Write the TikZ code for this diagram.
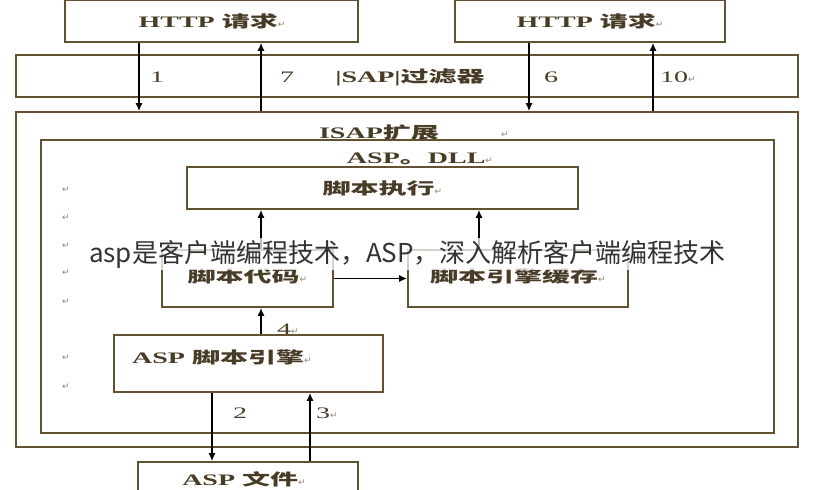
\documentclass[tikz,border=0pt]{standalone}
\usepackage{fontspec}
\usetikzlibrary{arrows.meta}
\setmainfont{Liberation Serif}
\newfontfamily\cjk{Noto Sans CJK SC}
\newfontfamily\symb{DejaVu Sans}
\definecolor{scanline}{RGB}{98,82,50}
\definecolor{scantext}{RGB}{72,60,38}
\newcommand{\ret}{{\mdseries\symb\fontsize{9}{9}\selectfont\color{scanline!70}↵}}
\newcommand{\stretchtxt}[1]{\scalebox{1.75}[1]{#1}}
\begin{document}
\begin{tikzpicture}[x=1pt,y=-1pt,
	box/.style={draw=scanline,line width=1.6pt,fill=white,inner sep=0pt},
	flow/.style={draw=black,line width=1.5pt,-{Latex[length=8pt,width=7pt]}},
	lbl/.style={text=scantext,font=\fontsize{16}{16}\selectfont\bfseries,inner sep=1pt},
	num/.style={lbl,font=\fontsize{16}{16}\selectfont},
	retmark/.style={inner sep=0pt}]
	\useasboundingbox (0,0) rectangle (814,490);
	\clip (0,0) rectangle (814,490);
	\fill[white] (0,0) rectangle (814,490);
	\node[box,minimum width=293pt,minimum height=42pt] (httpL) at (211.5,21) {};
	\node[lbl] (httpLT) at (212,21) {\stretchtxt{HTTP {\cjk 请求}}\ret};
	\node[box,minimum width=270pt,minimum height=42pt] (httpR) at (590,21) {};
	\node[lbl] (httpRT) at (590,21) {\stretchtxt{HTTP {\cjk 请求}}\ret};
	\node[box,minimum width=782pt,minimum height=42pt] (filter) at (407,76) {};
	\node[box,minimum width=782pt,minimum height=335pt] (isap) at (407,279.5) {};
	\node[box,minimum width=733pt,minimum height=293pt] (dll) at (407.5,286.5) {};
	\node[lbl] (filterT) at (410,77) {\stretchtxt{|SAP|{\cjk 过滤器}}};
	\node[lbl] (isapT) at (379,132) {\stretchtxt{ISAP{\cjk 扩展}}};
	\node[retmark] (isapR) at (505,135) {\ret};
	\node[lbl] (dllT) at (420,159) {\stretchtxt{ASP{\cjk 。}DLL}\ret};
	\node[box,minimum width=391pt,minimum height=42pt] (exec) at (382.5,188) {};
	\node[lbl] (execT) at (382.5,188) {\stretchtxt{\cjk 脚本执行}\ret};
	\node[box,minimum width=171pt,minimum height=57pt] (code) at (247.5,278.5) {};
	\node[lbl] (codeT) at (247.5,276) {\stretchtxt{\cjk 脚本代码}\ret};
	\node[box,minimum width=220pt,minimum height=57pt] (cache) at (518,278.5) {};
	\node[lbl] (cacheT) at (518,276) {\stretchtxt{\cjk 脚本引擎缓存}\ret};
	\node[box,minimum width=269pt,minimum height=57pt] (engine) at (248.5,363.5) {};
	\node[lbl,anchor=west] (engineT) at (131,357) {\stretchtxt{ASP {\cjk 脚本引擎}}\ret};
	\node[box,minimum width=220pt,minimum height=56pt] (file) at (248,490) {};
	\node[lbl] (fileT) at (244,479) {\stretchtxt{ASP {\cjk 文件}}\ret};
	\foreach \y [count=\i] in {190,218,246,273,302,358,387}
		\node[retmark] (ret\i) at (66,\y) {\ret};
	\coordinate (a1) at (139,0);
	\coordinate (a7) at (261,0);
	\coordinate (a6) at (529,0);
	\coordinate (a10) at (653,0);
	\coordinate (b1) at (261,0);
	\coordinate (b2) at (479,0);
	\coordinate (c2) at (212,0);
	\coordinate (c3) at (310,0);
	\draw[flow] (httpL.south -| a1) -- (isap.north -| a1);
	\draw[flow] (isap.north -| a7) -- (httpL.south -| a7);
	\draw[flow] (httpR.south -| a6) -- (isap.north -| a6);
	\draw[flow] (isap.north -| a10) -- (httpR.south -| a10);
	\draw[flow] (code.north -| b1) -- (exec.south -| b1);
	\draw[flow] (cache.north -| b2) -- (exec.south -| b2);
	\draw[flow] (code.east) -- (cache.west);
	\draw[flow] (engine.north -| b1) -- (code.south -| b1);
	\draw[flow] (engine.south -| c2) -- (file.north -| c2);
	\draw[flow] (file.north -| c3) -- (engine.south -| c3);
	\node[num] (n1) at (157,77) {\stretchtxt{1}};
	\node[num] (n7) at (287,77) {\stretchtxt{7}};
	\node[num] (n6) at (551,77) {\stretchtxt{6}};
	\node[num] (n10) at (678,77) {\stretchtxt{10}\ret};
	\node[num] (n4) at (288,329) {\stretchtxt{4}\ret};
	\node[num] (n2) at (240,413) {\stretchtxt{2}};
	\node[num] (n3) at (327,413) {\stretchtxt{3}\ret};
	\node[fill=white,fill opacity=0.75,text opacity=1,text=black!80,inner xsep=3pt,inner ysep=2pt,font=\cjk\fontsize{26}{26}\selectfont] (banner) at (407.5,254) {asp是客户端编程技术，ASP，深入解析客户端编程技术};
\end{tikzpicture}
\end{document}
